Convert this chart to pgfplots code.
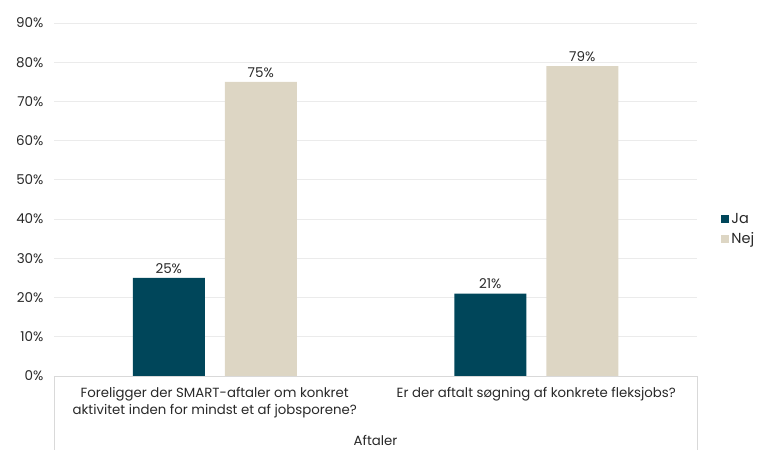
\documentclass[border=0pt]{standalone}
\usepackage{pgfplots}
\pgfplotsset{compat=1.18}
\usepackage{fontspec}
\setmainfont{Poppins}
\definecolor{ja}{RGB}{0,70,90}
\definecolor{nej}{RGB}{221,214,196}
\definecolor{gridc}{RGB}{235,235,235}
\definecolor{boxc}{RGB}{217,217,217}
\definecolor{txt}{RGB}{40,40,40}
\begin{document}
\begin{tikzpicture}[x=1pt,y=1pt]
\useasboundingbox (0,0) rectangle (762,450);
\begin{axis}[
  at={(54pt,74pt)}, anchor=south west,
  scale only axis, width=643pt, height=353pt,
  ybar=20pt, bar width=72pt,
  xmin=-0.5, xmax=1.5, ymin=0, ymax=90,
  xtick={0,1},
  xticklabels={{Foreligger der SMART-aftaler om konkret\\aktivitet inden for mindst et af jobsporene?},{Er der aftalt søgning af konkrete fleksjobs?}},
  xticklabel style={align=center, anchor=north, font=\fontsize{13.3}{17}\selectfont, text=txt, yshift=-4pt},
  xlabel={Aftaler}, xlabel style={font=\fontsize{13.3}{16}\selectfont, text=txt, at={(0.5,0)}, anchor=base, yshift=-69pt},
  ytick={0,10,...,90},
  yticklabel={\pgfmathprintnumber{\tick}\%},
  yticklabel style={font=\fontsize{13.5}{16}\selectfont, text=txt, xshift=-7pt},
  /pgf/number format/assume math mode=true,
  ymajorgrids, grid style={gridc, line width=0.8pt},
  axis line style={draw=none},
  axis x line*=bottom,
  x axis line style={boxc, line width=0.8pt},
  tick style={draw=none},
  axis y line*=left,
  nodes near coords={\pgfmathprintnumber{\pgfplotspointmeta}\%},
  nodes near coords style={font=\fontsize{13.5}{16}\selectfont, text=txt, yshift=1pt},
  point meta=y,
  legend style={draw=none, fill=none, at={(1.033,0.416)}, anchor=west, font=\fontsize{14.5}{17}\selectfont, text=txt, row sep=4pt},
  legend cell align=left,
  legend image code/.code={\fill[#1] (0pt,-4pt) rectangle (8pt,4pt);},
  clip=false,
]
\addplot[fill=ja, draw=none] coordinates {(0,25) (1,21)};
\addlegendentry{Ja}
\addplot[fill=nej, draw=none] coordinates {(0,75) (1,79)};
\addlegendentry{Nej}
\draw[boxc, line width=0.8pt] (rel axis cs:0,0) -- ([yshift=-74pt]rel axis cs:0,0);
\draw[boxc, line width=0.8pt] (rel axis cs:1,0) -- ([yshift=-74pt]rel axis cs:1,0);
\draw[boxc, line width=0.8pt] (rel axis cs:0,0) -- (rel axis cs:1,0);
\end{axis}
\end{tikzpicture}
\end{document}
